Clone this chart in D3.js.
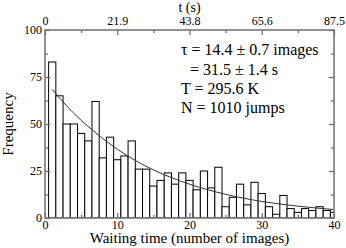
<!DOCTYPE html>
<html>
<head>
<meta charset="utf-8">
<script src="https://cdn.jsdelivr.net/npm/d3@7"></script>
<style>
  body { margin: 0; background: #fff; }
  text { font-family: "Liberation Serif", "DejaVu Serif", serif; fill: #000; }
</style>
</head>
<body>
<div id="chart"></div>
<script>
// histogram of waiting times (bin centre = number of images)
const bins = d3.range(1, 41)
const counts = [83, 65, 50, 50, 45, 41, 62, 32, 43, 31,
                33, 41, 26, 26, 17, 20, 24, 18, 24, 20,
                15, 25, 16, 27, 6, 11, 18, 7, 19, 13,
                6, 2, 12, 5, 3, 5, 4, 6, 4, 3]

// exponential fit
const fitX = [1, 3, 5, 7.5, 10, 12.5, 15, 20, 25, 30, 35, 40]
const fitY = [68.4, 59.6, 52, 43.8, 36.6, 30.6, 25.6, 18, 12.6, 8.8, 6.3, 4.5]

const xTicks = [0, 10, 20, 30, 40]
const xMinor = [5, 15, 25, 35]
const yTicks = [0, 25, 50, 75, 100]
const yMinor = [12.5, 37.5, 62.5, 87.5]
const topLabels = ["0", "21.9", "43.8", "65.6", "87.5"]

const notes = ["\u03c4 = 14.4 \u00b1 0.7 images", "= 31.5 \u00b1 1.4 s", "T = 295.6 K", "N = 1010 jumps"]

const W = 346, H = 248
const margin = {left: 45, right: 12, top: 30, bottom: 30}
const svg = d3.select('#chart').append('svg')
    .attr('width', W)
    .attr('height', H)

const x = d3.scaleLinear().domain([0, 40]).range([margin.left, W - margin.right])
const y = d3.scaleLinear().domain([0, 100]).range([H - margin.bottom, margin.top])

svg.append('clipPath').attr('id', 'plotclip')
  .append('rect')
    .attr('x', x(0)).attr('y', y(100))
    .attr('width', x(40) - x(0)).attr('height', y(0) - y(100))

const plot = svg.append('g').attr('clip-path', 'url(#plotclip)')

plot.selectAll('rect.bar')
    .data(bins)
    .join('rect')
    .attr('class', 'bar')
    .attr('x', d => x(d - 0.5))
    .attr('width', d => x(d + 0.5) - x(d - 0.5))
    .attr('y', (d, i) => y(counts[i]))
    .attr('height', (d, i) => y(0) - y(counts[i]))
    .attr('fill', '#fff')
    .attr('stroke', '#000')
    .attr('stroke-width', 1)

const line = d3.line()
    .x((d, i) => x(fitX[i]))
    .y(d => y(d))
    .curve(d3.curveMonotoneX)

plot.append('path')
    .attr('d', line(fitY))
    .attr('fill', 'none')
    .attr('stroke', '#333')
    .attr('stroke-width', 1)

// axes, ticks pointing inwards
const fontSize = '12px'
function styleAxis(g) {
  g.select('.domain').remove()
  g.selectAll('.tick line').attr('stroke', '#666').attr('stroke-width', 1.2)
  g.selectAll('.tick text').style('font-size', fontSize)
}

svg.append('g')
    .attr('transform', `translate(0,${y(0)})`)
    .call(d3.axisBottom(x).tickValues(xTicks).tickSize(-5).tickPadding(2).tickFormat(d3.format('d')))
    .call(styleAxis)
svg.append('g')
    .attr('transform', `translate(0,${y(0)})`)
    .call(d3.axisBottom(x).tickValues(xMinor).tickSize(-3).tickFormat(''))
    .call(styleAxis)

svg.append('g')
    .attr('transform', `translate(0,${y(100)})`)
    .call(d3.axisTop(x).tickValues(xTicks).tickSize(-5).tickPadding(5).tickFormat((d, i) => topLabels[i]))
    .call(styleAxis)
svg.append('g')
    .attr('transform', `translate(0,${y(100)})`)
    .call(d3.axisTop(x).tickValues(xMinor).tickSize(-3).tickFormat(''))
    .call(styleAxis)

svg.append('g')
    .attr('transform', `translate(${x(0)},0)`)
    .call(d3.axisLeft(y).tickValues(yTicks).tickSize(-5).tickPadding(3).tickFormat(d3.format('d')))
    .call(styleAxis)
svg.append('g')
    .attr('transform', `translate(${x(0)},0)`)
    .call(d3.axisLeft(y).tickValues(yMinor).tickSize(-3).tickFormat(''))
    .call(styleAxis)

svg.append('g')
    .attr('transform', `translate(${x(40)},0)`)
    .call(d3.axisRight(y).tickValues(yTicks).tickSize(-5).tickFormat(''))
    .call(styleAxis)
svg.append('g')
    .attr('transform', `translate(${x(40)},0)`)
    .call(d3.axisRight(y).tickValues(yMinor).tickSize(-3).tickFormat(''))
    .call(styleAxis)

// frame
svg.append('rect')
    .attr('x', x(0)).attr('y', y(100))
    .attr('width', x(40) - x(0)).attr('height', y(0) - y(100))
    .attr('fill', 'none')
    .attr('stroke', '#777')
    .attr('stroke-width', 1.6)

// titles
svg.append('text')
    .attr('x', (x(0) + x(40)) / 2)
    .attr('y', 243)
    .attr('text-anchor', 'middle')
    .style('font-size', '15px')
    .text('Waiting time (number of images)')

svg.append('text')
    .attr('x', (x(0) + x(40)) / 2)
    .attr('y', 12)
    .attr('text-anchor', 'middle')
    .style('font-size', '14px')
    .text('t (s)')

svg.append('text')
    .attr('transform', `translate(13,${(y(0) + y(100)) / 2}) rotate(-90)`)
    .attr('text-anchor', 'middle')
    .style('font-size', '15px')
    .text('Frequency')

// fit annotations
const noteX = [181, 190, 181, 181]
const noteY = [55, 75, 94, 113]
svg.selectAll('text.note')
    .data(notes)
    .join('text')
    .attr('class', 'note')
    .attr('x', (d, i) => noteX[i])
    .attr('y', (d, i) => noteY[i])
    .style('font-size', '16px')
    .text(d => d)
</script>
</body>
</html>
